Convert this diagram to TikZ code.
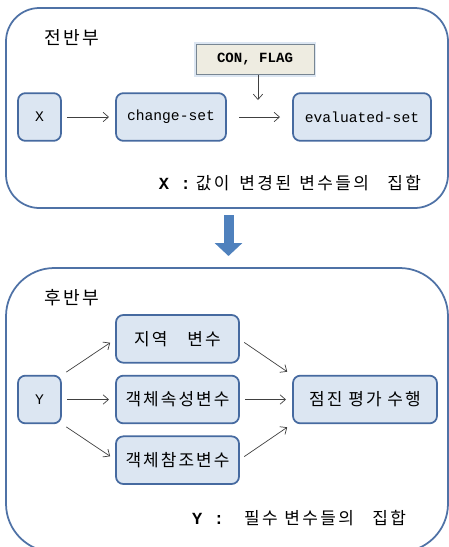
\documentclass[tikz,border=0pt]{standalone}
\usepackage{fontspec}
\setmainfont{Noto Sans CJK KR}
\newfontfamily\latinmono{Liberation Mono}
\newfontfamily\korbox[LetterSpace=12]{Noto Sans CJK KR}
\newfontfamily\kornote[LetterSpace=14]{Noto Sans CJK KR}
\usetikzlibrary{positioning,arrows.meta}
\definecolor{framecol}{RGB}{79,114,166}
\definecolor{boxfill}{RGB}{220,230,242}
\definecolor{boxline}{RGB}{70,106,160}
\definecolor{confill}{RGB}{238,236,225}
\definecolor{conline}{RGB}{120,134,146}
\definecolor{bigblue}{RGB}{79,129,189}

\begin{document}
\begin{tikzpicture}[every node/.style={outer sep=0pt},
		frame/.style={draw=framecol,line width=1.5pt,minimum width=13.26cm},
		box/.style={draw=boxline,fill=boxfill,line width=1.5pt,rounded corners=0.22cm,
			minimum height=1.43cm,font=\korbox\fontsize{14.5}{17}\selectfont},
		latinbox/.style={box,font=\latinmono\fontsize{12.5}{15}\selectfont},
		conbox/.style={draw=conline,fill=confill,line width=0.8pt,minimum width=3.54cm,
			minimum height=0.9cm,font=\latinmono\bfseries\fontsize{12}{14}\selectfont,
			preaction={draw=boxfill,line width=3.5pt}},
		title/.style={font=\korbox\fontsize{15.5}{18}\selectfont},
		note/.style={anchor=east,font=\kornote\fontsize{14.5}{17}\selectfont},
		arr/.style={draw=black!75,line width=0.6pt,shorten <=0.19cm,shorten >=0.21cm,
			-{Straight Barb[length=1.6mm,width=2.8mm]}},
		bigarrow/.style={draw=bigblue,line width=0.3cm,shorten <=0.21cm,shorten >=0.36cm,
			-{Triangle[width=0.81cm,length=0.39cm]}}]
	\useasboundingbox (0,0) rectangle (13.47,-16.41);
	\clip (0,0) rectangle (13.47,-16.41);
	
	% the two parts
	\node[frame,rounded corners=1cm,minimum height=6cm] (front) at (6.81,-3.24) {};
	\node[frame,rounded corners=1.45cm,minimum height=8.52cm] (back) at (6.81,-12.3) {};
	\draw[bigarrow] ([xshift=0.045cm]front.south) -- ([xshift=0.045cm]back.north);
	
	% front part
	\node[title] (fronttitle) at (2.16,-1.14) {전반부};
	\node[latinbox,minimum width=1.29cm] (x) at (1.185,-3.51) {X};
	\node[latinbox,minimum width=3.3cm,right=1.65cm of x] (chg) {change-set};
	\node[latinbox,minimum width=4.14cm,right=2.01cm of chg] (eval) {evaluated-set};
	\node[conbox] (con) at (7.65,-1.785) {CON, FLAG};
	\coordinate (conend) at (7.74,-3.0);
	
	\draw[arr,shorten <=0.18cm] (x) -- (chg);
	\draw[arr,shorten <=0.39cm,shorten >=0.39cm] (chg) -- (eval);
	\draw[arr,shorten <=0cm,shorten >=0cm] (con.south -| conend) -- (conend);
	
	\node[note] (frontnote) at (12.75,-5.49)
		{{\latinmono\bfseries X\hspace{0.35cm}:}\hspace{0.15cm}값이\hspace{0.3cm}변경된\hspace{0.25cm}변수들의\hspace{0.55cm}집합};
	
	% back part
	\node[title] (backtitle) at (2.16,-8.94) {후반부};
	\node[latinbox,minimum width=1.29cm] (y) at (1.185,-11.985) {Y};
	\node[box,minimum width=3.69cm,right=1.65cm of y] (mid) {객체속성변수};
	\node[box,minimum width=3.69cm,above=0.39cm of mid] (loc) {지역\hspace{0.6cm}변수};
	\node[box,minimum width=3.69cm,below=0.39cm of mid] (ref) {객체참조변수};
	\node[box,minimum width=4.32cm,right=1.62cm of mid] (res) {점진 평가 수행};
	
	\foreach \a/\b in {y.north east/loc.west,y/mid,y.south east/ref.west,
		loc.east/res.north west,mid/res,ref.east/res.south west}
	{
		\draw[arr] (\a) -- (\b);
	}
	
	\node[note] (backnote) at (12.3,-15.54)
		{{\latinmono\bfseries Y\hspace{0.35cm}:}\hspace{0.6cm}필수\hspace{0.2cm}변수들의\hspace{0.55cm}집합};
	
\end{tikzpicture}
\end{document}
